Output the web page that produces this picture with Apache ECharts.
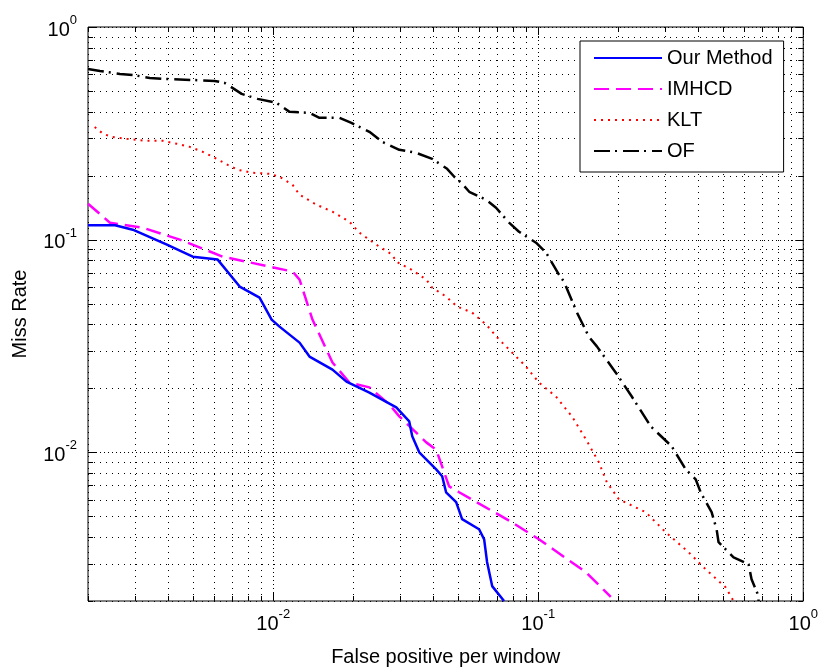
<!DOCTYPE html>
<html>
<head>
<meta charset="utf-8">
<script src="https://cdn.jsdelivr.net/npm/echarts@6/dist/echarts.min.js"></script>
<style>html,body{margin:0;padding:0;background:#fff;}#c{width:821px;height:672px;}</style>
</head>
<body>
<div id="c"></div>
<script>
// ---- data ----
const seriesNames = ['Our Method', 'IMHCD', 'KLT', 'OF'];

const ourX = [0.0020, 0.00253, 0.00295, 0.00397, 0.00497, 0.00617, 0.00747, 0.00888, 0.00986, 0.01056, 0.01257, 0.0137, 0.01673, 0.01889, 0.02306, 0.02913, 0.0326, 0.03346, 0.03556, 0.0412, 0.0434, 0.0449, 0.049, 0.0516, 0.0598, 0.0625, 0.0641, 0.067, 0.0743];
const ourY = [0.117, 0.117, 0.1114, 0.0947, 0.0832, 0.0806, 0.0602, 0.0534, 0.0421, 0.039, 0.0328, 0.0282, 0.0245, 0.0215, 0.0191, 0.01627, 0.01398, 0.01189, 0.0100, 0.00832, 0.00772, 0.00649, 0.00583, 0.00485, 0.00435, 0.0039, 0.00305, 0.00235, 0.0020];

const imhcdX = [0.0020, 0.00242, 0.00322, 0.00444, 0.00645, 0.00969, 0.01183, 0.01257, 0.01406, 0.01673, 0.01938, 0.02306, 0.02742, 0.0299, 0.0378, 0.0412, 0.0461, 0.0503, 0.0796, 0.1006, 0.1513, 0.1878];
const imhcdY = [0.1476, 0.1202, 0.1138, 0.100, 0.0832, 0.0747, 0.0708, 0.0649, 0.0421, 0.02646, 0.0213, 0.0202, 0.0168, 0.01476, 0.01114, 0.0103, 0.00692, 0.00649, 0.00469, 0.0039, 0.00273, 0.00209];

const kltX = [0.00212, 0.00228, 0.00246, 0.0028, 0.00334, 0.00383, 0.00433, 0.00484, 0.00542, 0.00591, 0.00673, 0.00734, 0.00836, 0.00969, 0.01056, 0.01103, 0.01183, 0.01257, 0.01456, 0.01673, 0.01938, 0.02114, 0.02449, 0.02813, 0.02913, 0.0332, 0.0378, 0.0398, 0.0449, 0.0494, 0.0563, 0.0636, 0.0712, 0.0796, 0.0899, 0.1006, 0.1166, 0.134, 0.1513, 0.1693, 0.1815, 0.2014, 0.2544, 0.3027, 0.3694, 0.4281, 0.5091, 0.5458];
const kltY = [0.339, 0.3146, 0.3045, 0.298, 0.2916, 0.2916, 0.2823, 0.2733, 0.2589, 0.2453, 0.225, 0.2131, 0.2063, 0.2041, 0.1976, 0.1913, 0.1812, 0.1627, 0.146, 0.1354, 0.1215, 0.1079, 0.0947, 0.085, 0.0788, 0.0723, 0.0649, 0.0595, 0.054, 0.0485, 0.0454, 0.0399, 0.0339, 0.0295, 0.0253, 0.0213, 0.0183, 0.01476, 0.01151, 0.00898, 0.00723, 0.00602, 0.00523, 0.00421, 0.00339, 0.00282, 0.00232, 0.0020];

const ofX = [0.0020, 0.00222, 0.00264, 0.00295, 0.00342, 0.0039, 0.00493, 0.00601, 0.00656, 0.0076, 0.00873, 0.0103, 0.01152, 0.0137, 0.01494, 0.01777, 0.01972, 0.02306, 0.0258, 0.0299, 0.0346, 0.0398, 0.0453, 0.0482, 0.0512, 0.0549, 0.0636, 0.0693, 0.0776, 0.0846, 0.0981, 0.107, 0.1197, 0.125, 0.14, 0.1552, 0.1664, 0.1962, 0.2254, 0.2657, 0.3189, 0.3599, 0.3926, 0.41, 0.451, 0.471, 0.479, 0.5458, 0.6217, 0.6381, 0.678, 0.678];
const ofY = [0.635, 0.6215, 0.6017, 0.5952, 0.576, 0.57, 0.5637, 0.5576, 0.5457, 0.4847, 0.4592, 0.4396, 0.399, 0.3947, 0.3739, 0.3739, 0.354, 0.3214, 0.2884, 0.2646, 0.2562, 0.24, 0.2154, 0.1976, 0.1852, 0.168, 0.154, 0.1413, 0.1202, 0.109, 0.0968, 0.0869, 0.0685, 0.0635, 0.0454, 0.035, 0.0315, 0.0237, 0.0183, 0.01325, 0.01067, 0.00832, 0.00747, 0.00649, 0.00523, 0.00435, 0.00378, 0.00321, 0.00298, 0.00253, 0.00211, 0.0020];

// axis ranges and tick positions
const xMin = 0.002, xMax = 1;
const yMin = 0.002, yMax = 1;
const xMajorTicks = [0.01, 0.1, 1];
const xMinorTicks = [0.002, 0.003, 0.004, 0.005, 0.006, 0.007, 0.008, 0.009, 0.02, 0.03, 0.04, 0.05, 0.06, 0.07, 0.08, 0.09, 0.2, 0.3, 0.4, 0.5, 0.6, 0.7, 0.8, 0.9];
const yMajorTicks = [0.01, 0.1, 1];
const yMinorTicks = xMinorTicks.slice();

const FONT = "'Liberation Sans', Arial, Helvetica, sans-serif";

function zip(xs, ys) { return xs.map((x, i) => [x, ys[i]]); }

function powLabel(v) {
  const l = Math.log10(v);
  const e = Math.round(l);
  if (Math.abs(l - e) > 1e-6) return '';
  return '{b|10}{s|' + e + '}';
}
const labelRich = {
  b: { fontSize: 20, fontFamily: FONT, color: '#000', padding: [6, 0, 0, 0] },
  s: { fontSize: 13, fontFamily: FONT, color: '#000', verticalAlign: 'top' }
};

function crisp(v) { return Math.round(v) + 0.5; }

function renderXGrid(params, api) {
  const v = api.value(0);
  const major = api.value(2);
  const bot = api.coord([v, yMin]);
  const top = api.coord([v, yMax]);
  const x = crisp(bot[0]);
  const tl = major ? 8 : 5;
  return {
    type: 'group',
    children: [
      { type: 'line', shape: { x1: x, y1: bot[1], x2: x, y2: top[1] },
        style: { stroke: '#000', lineWidth: 1, lineDash: major ? [1, 3] : [1, 5] } },
      { type: 'line', shape: { x1: x, y1: bot[1], x2: x, y2: bot[1] - tl },
        style: { stroke: '#000', lineWidth: 1 } },
      { type: 'line', shape: { x1: x, y1: top[1], x2: x, y2: top[1] + tl },
        style: { stroke: '#000', lineWidth: 1 } }
    ]
  };
}
function renderYGrid(params, api) {
  const v = api.value(1);
  const major = api.value(2);
  const l = api.coord([xMin, v]);
  const r = api.coord([xMax, v]);
  const y = crisp(l[1]);
  const tl = major ? 8 : 5;
  return {
    type: 'group',
    children: [
      { type: 'line', shape: { x1: l[0], y1: y, x2: r[0], y2: y },
        style: { stroke: '#000', lineWidth: 1, lineDash: major ? [1, 3] : [1, 5] } },
      { type: 'line', shape: { x1: l[0], y1: y, x2: l[0] + tl, y2: y },
        style: { stroke: '#000', lineWidth: 1 } },
      { type: 'line', shape: { x1: r[0], y1: y, x2: r[0] - tl, y2: y },
        style: { stroke: '#000', lineWidth: 1 } }
    ]
  };
}

const xGridData = xMajorTicks.map(v => [v, 0.1, 1]).concat(xMinorTicks.map(v => [v, 0.1, 0]));
const yGridData = yMajorTicks.map(v => [0.1, v, 1]).concat(yMinorTicks.map(v => [0.1, v, 0]));

const chart = echarts.init(document.getElementById('c'), null, { renderer: 'canvas' });
chart.setOption({
  animation: false,
  backgroundColor: '#fff',
  grid: { left: 88, right: 16, top: 27, bottom: 70, show: true, borderColor: '#000', borderWidth: 1, backgroundColor: '#fff' },
  xAxis: {
    type: 'log', logBase: 10, min: xMin, max: xMax,
    axisLine: { show: false }, axisTick: { show: false }, splitLine: { show: false },
    axisLabel: { formatter: powLabel, rich: labelRich, margin: 7, showMinLabel: true, hideOverlap: false },
    name: 'False positive per window', nameLocation: 'middle', nameGap: 46,
    nameTextStyle: { fontSize: 20, fontFamily: FONT, color: '#000' }
  },
  yAxis: {
    type: 'log', logBase: 10, min: yMin, max: yMax,
    axisLine: { show: false }, axisTick: { show: false }, splitLine: { show: false },
    axisLabel: { formatter: powLabel, rich: labelRich, margin: 11, hideOverlap: false },
    name: 'Miss Rate', nameLocation: 'middle', nameGap: 58,
    nameTextStyle: { fontSize: 20, fontFamily: FONT, color: '#000' }
  },
  legend: {
    orient: 'vertical', left: 580, top: 41,
    data: seriesNames,
    itemWidth: 68, itemHeight: 20, itemGap: 11,
    padding: [7, 11, 11, 13],
    backgroundColor: '#fff', borderColor: '#000', borderWidth: 1, borderRadius: 0,
    itemStyle: { color: 'rgba(0,0,0,0)', borderWidth: 0, opacity: 0 },
    textStyle: { fontSize: 20, fontFamily: FONT, color: '#000' }
  },
  series: [
    { type: 'custom', name: 'xgrid', data: xGridData, renderItem: renderXGrid, z: 1, silent: true, encode: { x: 0, y: 1 } },
    { type: 'custom', name: 'ygrid', data: yGridData, renderItem: renderYGrid, z: 1, silent: true, encode: { x: 0, y: 1 } },
    { type: 'line', name: 'Our Method', data: zip(ourX, ourY), symbol: 'none', z: 5,
      lineStyle: { color: '#0000ff', width: 2.5, type: 'solid' }, itemStyle: { color: '#0000ff' } },
    { type: 'line', name: 'IMHCD', data: zip(imhcdX, imhcdY), symbol: 'none', z: 4,
      lineStyle: { color: '#ff00ff', width: 2.5, type: [15, 7] }, itemStyle: { color: '#ff00ff' } },
    { type: 'line', name: 'KLT', data: zip(kltX, kltY), symbol: 'none', z: 3,
      lineStyle: { color: '#ff0000', width: 2, type: [2, 5] }, itemStyle: { color: '#ff0000' } },
    { type: 'line', name: 'OF', data: zip(ofX, ofY), symbol: 'none', z: 3,
      lineStyle: { color: '#000000', width: 2.5, type: [16, 5, 2, 6] }, itemStyle: { color: '#000000' } }
  ]
});
</script>
</body>
</html>
